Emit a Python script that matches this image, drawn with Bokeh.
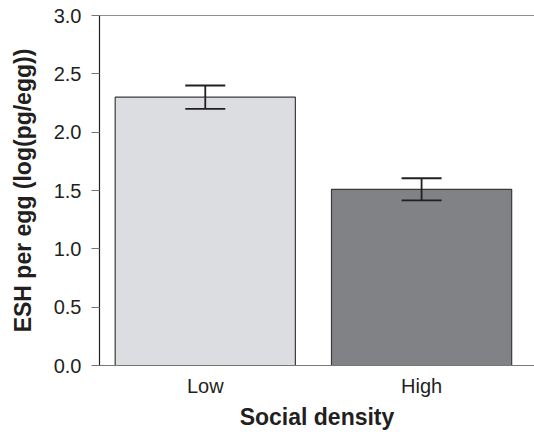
from bokeh.plotting import figure
from bokeh.models import ColumnDataSource, Range1d, FixedTicker, Whisker, TeeHead, Span
from bokeh.embed import file_html
from bokeh.resources import INLINE

categories = ["Low", "High"]
means = [2.30, 1.51]
errors = [0.10, 0.095]
fill_colors = ["#dcdde0", "#808285"]
y_ticks = [0.0, 0.5, 1.0, 1.5, 2.0, 2.5, 3.0]

xpos = list(range(len(categories)))
src = ColumnDataSource(dict(
    x=xpos, top=means, color=fill_colors,
    upper=[m + e for m, e in zip(means, errors)],
    lower=[m - e for m, e in zip(means, errors)],
))

p = figure(width=534, height=432, output_backend="svg", toolbar_location=None,
           x_range=Range1d(-0.489, 1.522), y_range=Range1d(0, 3.0),
           min_border_left=99, min_border_right=0, min_border_top=15, min_border_bottom=67)
p.outline_line_color = None
p.grid.grid_line_color = None
p.background_fill_color = "white"

p.vbar(x="x", top="top", width=0.833, bottom=0, fill_color="color",
       line_color="#3a3a3a", line_width=1.2, source=src)

w = Whisker(base="x", upper="upper", lower="lower", source=src, level="overlay",
            line_color="#231f20", line_width=1.8,
            upper_head=TeeHead(size=40, line_color="#231f20", line_width=1.8),
            lower_head=TeeHead(size=40, line_color="#231f20", line_width=1.8))
p.add_layout(w)

p.add_layout(Span(location=y_ticks[-1], dimension="width", line_color="#231f20", line_width=1.2))

font = "Liberation Sans"
# y axis
ya = p.yaxis[0]
ya.ticker = FixedTicker(ticks=y_ticks)
ya.major_label_overrides = {t: f"{t:.1f}" for t in y_ticks}
ya.axis_line_color = "#231f20"
ya.axis_line_width = 1.2
ya.major_tick_line_color = "#777777"
ya.major_tick_out = 8
ya.major_tick_in = 0
ya.minor_tick_line_color = None
ya.major_label_standoff = 10
ya.major_label_text_font = font
ya.major_label_text_font_size = "20px"
ya.major_label_text_color = "#231f20"
ya.axis_label = "ESH per egg (log(pg/egg))"
ya.axis_label_text_font = font
ya.axis_label_text_font_style = "bold"
ya.axis_label_text_font_size = "23px"
ya.axis_label_text_color = "#231f20"
ya.axis_label_standoff = 15

# x axis
xa = p.xaxis[0]
xa.ticker = FixedTicker(ticks=xpos)
xa.major_label_overrides = {i: c for i, c in zip(xpos, categories)}
xa.axis_line_color = "#777777"
xa.axis_line_width = 1.2
xa.major_tick_line_color = None
xa.minor_tick_line_color = None
xa.major_label_standoff = 3
xa.major_label_text_font = font
xa.major_label_text_font_size = "20px"
xa.major_label_text_color = "#231f20"
xa.axis_label = "Social density"
xa.axis_label_text_font = font
xa.axis_label_text_font_style = "bold"
xa.axis_label_text_font_size = "23px"
xa.axis_label_text_color = "#231f20"
xa.axis_label_standoff = 4

open("out.html", "w").write(file_html(p, INLINE))
